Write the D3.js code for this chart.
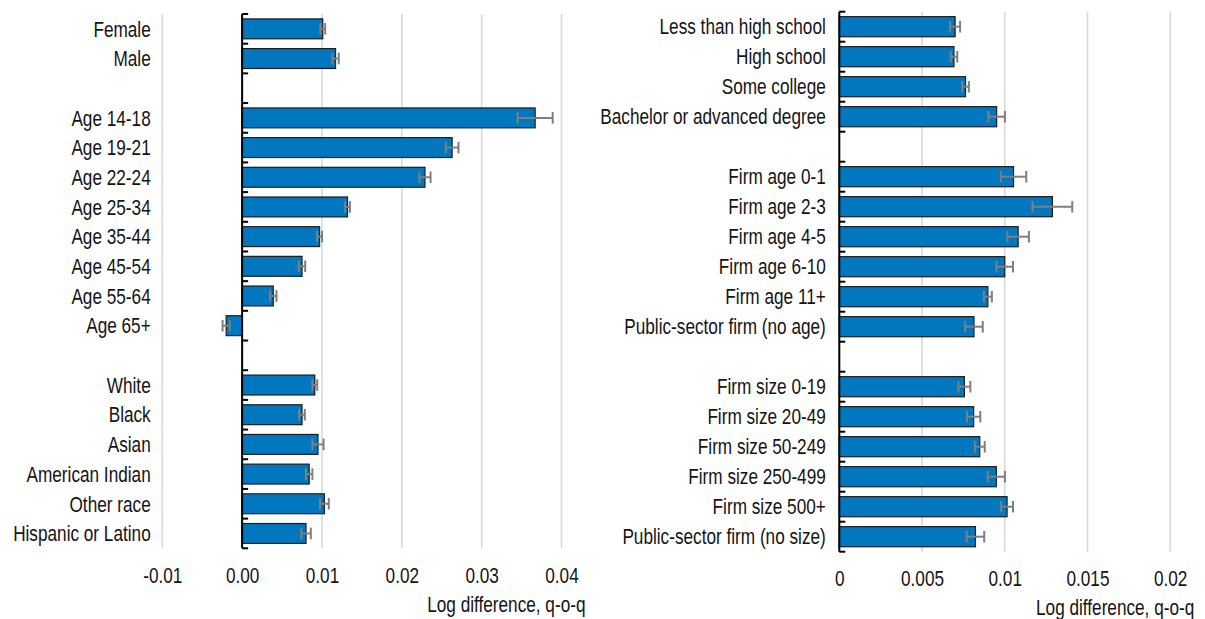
<!DOCTYPE html>
<html>
<head>
<meta charset="utf-8">
<script src="https://cdn.jsdelivr.net/npm/d3@7"></script>
<style>
  html, body { margin: 0; padding: 0; background: #fff; }
  svg { display: block; }
  text { font-family: "Liberation Sans", Arial, sans-serif; fill: #141414; }
</style>
</head>
<body>
<svg id="chart" width="1205" height="619"></svg>
<script>
// ---------- DATA ----------
const leftCategories = ["Female", "Male", "", "Age 14-18", "Age 19-21", "Age 22-24", "Age 25-34",
  "Age 35-44", "Age 45-54", "Age 55-64", "Age 65+", "", "White", "Black", "Asian",
  "American Indian", "Other race", "Hispanic or Latino"];
const leftValues = [0.0101, 0.0117, null, 0.0367, 0.0263, 0.0229, 0.0132,
  0.0097, 0.0075, 0.0039, -0.0020, null, 0.0091, 0.0075, 0.0095,
  0.0084, 0.0103, 0.0080];
const leftErrors = [0.0003, 0.0004, null, 0.0022, 0.0008, 0.0007, 0.0003,
  0.0003, 0.0004, 0.0004, 0.00045, null, 0.0003, 0.00035, 0.0007,
  0.0004, 0.00055, 0.0006];
const leftTicks = [-0.01, 0.0, 0.01, 0.02, 0.03, 0.04];
const leftTickLabels = ["-0.01", "0.00", "0.01", "0.02", "0.03", "0.04"];

const rightCategories = ["Less than high school", "High school", "Some college",
  "Bachelor or advanced degree", "", "Firm age 0-1", "Firm age 2-3", "Firm age 4-5",
  "Firm age 6-10", "Firm age 11+", "Public-sector firm (no age)", "", "Firm size 0-19",
  "Firm size 20-49", "Firm size 50-249", "Firm size 250-499", "Firm size 500+",
  "Public-sector firm (no size)"];
const rightValues = [0.0070, 0.00693, 0.00763, 0.00951, null, 0.01053, 0.01288, 0.01081,
  0.0100, 0.00898, 0.00814, null, 0.00756, 0.00812, 0.00849, 0.00949, 0.01014, 0.00823];
const rightErrors = [0.0003, 0.0002, 0.0002, 0.0005, null, 0.00077, 0.0012, 0.00065,
  0.0005, 0.00024, 0.00053, null, 0.00036, 0.0004, 0.0003, 0.00052, 0.00036, 0.00053];
const rightTicks = [0, 0.005, 0.01, 0.015, 0.02];
const rightTickLabels = ["0", "0.005", "0.01", "0.015", "0.02"];

const axisTitle = "Log difference, q-o-q";

// ---------- STYLE ----------
const BAR_FILL = "#0077be";
const BAR_STROKE = "#1c1c1c";
const ERR_COLOR = "#7f7f7f";
const GRID_COLOR = "#d9d9d9";
const FONT_SIZE = 21.5;
const SQUEEZE = 0.8;

const svg = d3.select("#chart");

function scaledText(parent, x, y, str, anchor, dy) {
  const g = parent.append("g").attr("transform", `translate(${x},${y}) scale(${SQUEEZE},1)`);
  g.append("text")
    .attr("text-anchor", anchor)
    .attr("dy", dy || 0)
    .style("font-size", FONT_SIZE + "px")
    .text(str);
  return g;
}

function panel(cfg) {
  const g = svg.append("g");
  const x = d3.scaleLinear().domain(cfg.domain).range(cfg.xRange);
  const y = d3.scaleBand().domain(d3.range(cfg.categories.length))
    .range(cfg.yRange).paddingInner(0.33).paddingOuter(0.165);

  // gridlines
  g.append("g").selectAll("line").data(cfg.ticks).join("line")
    .attr("x1", d => x(d)).attr("x2", d => x(d))
    .attr("y1", cfg.yRange[0]).attr("y2", cfg.yRange[1])
    .attr("stroke", GRID_COLOR).attr("stroke-width", 1.6);

  // bars
  const idx = d3.range(cfg.categories.length).filter(i => cfg.values[i] !== null);
  g.append("g").selectAll("rect").data(idx).join("rect")
    .attr("x", i => x(Math.min(0, cfg.values[i])))
    .attr("width", i => Math.abs(x(cfg.values[i]) - x(0)))
    .attr("y", i => y(i))
    .attr("height", y.bandwidth())
    .attr("fill", BAR_FILL)
    .attr("stroke", BAR_STROKE).attr("stroke-width", 1.2);

  // error bars
  const eg = g.append("g").attr("stroke", ERR_COLOR).attr("stroke-width", 2).attr("fill", "none");
  idx.forEach(i => {
    const v = cfg.values[i], e = cfg.errors[i];
    const cy = y(i) + y.bandwidth() / 2;
    eg.append("line").attr("x1", x(v - e)).attr("x2", x(v + e)).attr("y1", cy).attr("y2", cy);
    eg.append("line").attr("x1", x(v - e)).attr("x2", x(v - e)).attr("y1", cy - 5.8).attr("y2", cy + 5.8);
    eg.append("line").attr("x1", x(v + e)).attr("x2", x(v + e)).attr("y1", cy - 5.8).attr("y2", cy + 5.8);
  });

  // vertical axis line and tick marks
  const x0 = x(0);
  g.append("line").attr("x1", x0).attr("x2", x0)
    .attr("y1", cfg.yRange[0]).attr("y2", cfg.yRange[1])
    .attr("stroke", "#000").attr("stroke-width", 2);
  const bounds = d3.range(cfg.categories.length + 1).map(i => cfg.yRange[0] + i * y.step());
  g.append("g").selectAll("line").data(bounds).join("line")
    .attr("x1", x0).attr("x2", x0 + 6)
    .attr("y1", d => d).attr("y2", d => d)
    .attr("stroke", "#000").attr("stroke-width", 2);

  // category labels
  cfg.categories.forEach((c, i) => {
    if (!c) return;
    scaledText(g, cfg.labelX, y(i) + y.bandwidth() / 2, c, "end", "0.36em");
  });

  // x axis
  const ax = d3.axisBottom(x).tickValues(cfg.ticks)
    .tickFormat((d, i) => cfg.tickLabels[i]).tickSize(0).tickPadding(cfg.tickPad);
  const axg = g.append("g").attr("transform", `translate(0,${cfg.yRange[1]})`).call(ax);
  axg.select(".domain").remove();
  axg.attr("font-family", null).attr("font-size", null);
  axg.selectAll("text")
    .style("font-size", FONT_SIZE + "px")
    .style("fill", "#141414")
    .attr("transform", `scale(${SQUEEZE},1)`);

  // axis title
  scaledText(g, cfg.titleX, cfg.titleY, axisTitle, "end", 0);
}

panel({
  categories: leftCategories, values: leftValues, errors: leftErrors,
  ticks: leftTicks, tickLabels: leftTickLabels,
  domain: [-0.01, 0.04], xRange: [162.3, 561.5], yRange: [14, 548.3],
  labelX: 150.7, titleX: 585.5, titleY: 611.5, tickPad: 19.4
});

panel({
  categories: rightCategories, values: rightValues, errors: rightErrors,
  ticks: rightTicks, tickLabels: rightTickLabels,
  domain: [0, 0.02], xRange: [839.3, 1170.2], yRange: [11.7, 551.7],
  labelX: 825.8, titleX: 1194.3, titleY: 614.5, tickPad: 19.4
});
</script>
</body>
</html>
